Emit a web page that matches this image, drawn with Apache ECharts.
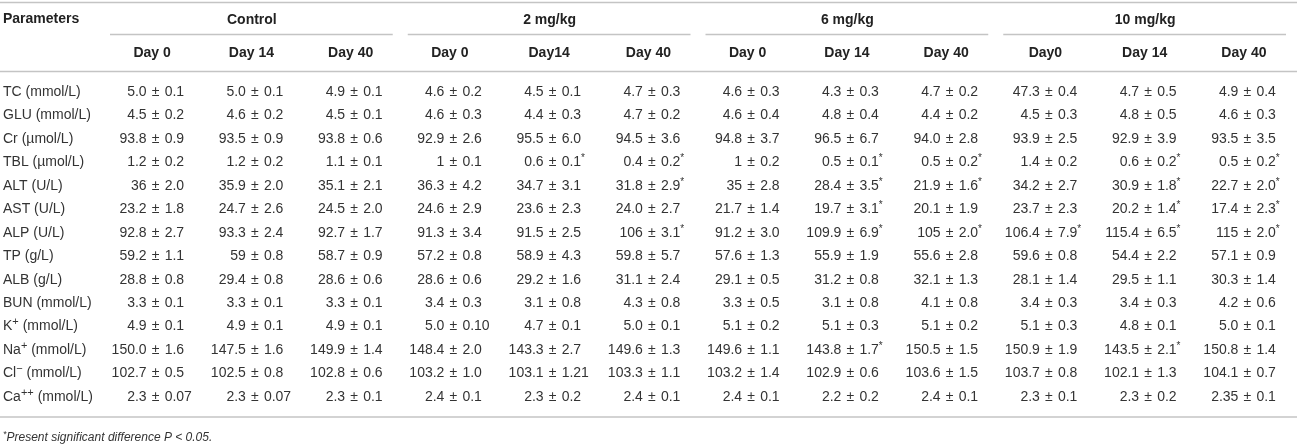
<!DOCTYPE html>
<html>
<head>
<meta charset="utf-8">
<title>Serum biochemistry table</title>
<script src="https://cdn.jsdelivr.net/npm/echarts@6/dist/echarts.min.js"></script>
<style>
    html, body { margin: 0; padding: 0; background: #fff; }
    #table { width: 1297px; height: 447px; }
</style>
</head>
<body>
<div id="table"></div>
<script>
// row labels, [x] = superscript
var parameters = ['TC (mmol/L)', 'GLU (mmol/L)', 'Cr (\u00b5mol/L)', 'TBL (\u00b5mol/L)', 'ALT (U/L)', 'AST (U/L)',
    'ALP (U/L)', 'TP (g/L)', 'ALB (g/L)', 'BUN (mmol/L)', 'K[+] (mmol/L)', 'Na[+] (mmol/L)',
    'Cl[\u2212] (mmol/L)', 'Ca[++] (mmol/L)'];
var groups = ['Control', '2 mg/kg', '6 mg/kg', '10 mg/kg'];
var days = ['Day 0', 'Day 14', 'Day 40', 'Day 0', 'Day14', 'Day 40', 'Day 0', 'Day 14', 'Day 40', 'Day0', 'Day 14', 'Day 40'];

// mean ± sd per group, one row per parameter (Day 0, Day 14, Day 40); * = significant
var control = [
    ['5.0 ± 0.1', '5.0 ± 0.1', '4.9 ± 0.1'],
    ['4.5 ± 0.2', '4.6 ± 0.2', '4.5 ± 0.1'],
    ['93.8 ± 0.9', '93.5 ± 0.9', '93.8 ± 0.6'],
    ['1.2 ± 0.2', '1.2 ± 0.2', '1.1 ± 0.1'],
    ['36 ± 2.0', '35.9 ± 2.0', '35.1 ± 2.1'],
    ['23.2 ± 1.8', '24.7 ± 2.6', '24.5 ± 2.0'],
    ['92.8 ± 2.7', '93.3 ± 2.4', '92.7 ± 1.7'],
    ['59.2 ± 1.1', '59 ± 0.8', '58.7 ± 0.9'],
    ['28.8 ± 0.8', '29.4 ± 0.8', '28.6 ± 0.6'],
    ['3.3 ± 0.1', '3.3 ± 0.1', '3.3 ± 0.1'],
    ['4.9 ± 0.1', '4.9 ± 0.1', '4.9 ± 0.1'],
    ['150.0 ± 1.6', '147.5 ± 1.6', '149.9 ± 1.4'],
    ['102.7 ± 0.5', '102.5 ± 0.8', '102.8 ± 0.6'],
    ['2.3 ± 0.07', '2.3 ± 0.07', '2.3 ± 0.1']
];
var dose2 = [
    ['4.6 ± 0.2', '4.5 ± 0.1', '4.7 ± 0.3'],
    ['4.6 ± 0.3', '4.4 ± 0.3', '4.7 ± 0.2'],
    ['92.9 ± 2.6', '95.5 ± 6.0', '94.5 ± 3.6'],
    ['1 ± 0.1', '0.6 ± 0.1*', '0.4 ± 0.2*'],
    ['36.3 ± 4.2', '34.7 ± 3.1', '31.8 ± 2.9*'],
    ['24.6 ± 2.9', '23.6 ± 2.3', '24.0 ± 2.7'],
    ['91.3 ± 3.4', '91.5 ± 2.5', '106 ± 3.1*'],
    ['57.2 ± 0.8', '58.9 ± 4.3', '59.8 ± 5.7'],
    ['28.6 ± 0.6', '29.2 ± 1.6', '31.1 ± 2.4'],
    ['3.4 ± 0.3', '3.1 ± 0.8', '4.3 ± 0.8'],
    ['5.0 ± 0.10', '4.7 ± 0.1', '5.0 ± 0.1'],
    ['148.4 ± 2.0', '143.3 ± 2.7', '149.6 ± 1.3'],
    ['103.2 ± 1.0', '103.1 ± 1.21', '103.3 ± 1.1'],
    ['2.4 ± 0.1', '2.3 ± 0.2', '2.4 ± 0.1']
];
var dose6 = [
    ['4.6 ± 0.3', '4.3 ± 0.3', '4.7 ± 0.2'],
    ['4.6 ± 0.4', '4.8 ± 0.4', '4.4 ± 0.2'],
    ['94.8 ± 3.7', '96.5 ± 6.7', '94.0 ± 2.8'],
    ['1 ± 0.2', '0.5 ± 0.1*', '0.5 ± 0.2*'],
    ['35 ± 2.8', '28.4 ± 3.5*', '21.9 ± 1.6*'],
    ['21.7 ± 1.4', '19.7 ± 3.1*', '20.1 ± 1.9'],
    ['91.2 ± 3.0', '109.9 ± 6.9*', '105 ± 2.0*'],
    ['57.6 ± 1.3', '55.9 ± 1.9', '55.6 ± 2.8'],
    ['29.1 ± 0.5', '31.2 ± 0.8', '32.1 ± 1.3'],
    ['3.3 ± 0.5', '3.1 ± 0.8', '4.1 ± 0.8'],
    ['5.1 ± 0.2', '5.1 ± 0.3', '5.1 ± 0.2'],
    ['149.6 ± 1.1', '143.8 ± 1.7*', '150.5 ± 1.5'],
    ['103.2 ± 1.4', '102.9 ± 0.6', '103.6 ± 1.5'],
    ['2.4 ± 0.1', '2.2 ± 0.2', '2.4 ± 0.1']
];
var dose10 = [
    ['47.3 ± 0.4', '4.7 ± 0.5', '4.9 ± 0.4'],
    ['4.5 ± 0.3', '4.8 ± 0.5', '4.6 ± 0.3'],
    ['93.9 ± 2.5', '92.9 ± 3.9', '93.5 ± 3.5'],
    ['1.4 ± 0.2', '0.6 ± 0.2*', '0.5 ± 0.2*'],
    ['34.2 ± 2.7', '30.9 ± 1.8*', '22.7 ± 2.0*'],
    ['23.7 ± 2.3', '20.2 ± 1.4*', '17.4 ± 2.3*'],
    ['106.4 ± 7.9*', '115.4 ± 6.5*', '115 ± 2.0*'],
    ['59.6 ± 0.8', '54.4 ± 2.2', '57.1 ± 0.9'],
    ['28.1 ± 1.4', '29.5 ± 1.1', '30.3 ± 1.4'],
    ['3.4 ± 0.3', '3.4 ± 0.3', '4.2 ± 0.6'],
    ['5.1 ± 0.3', '4.8 ± 0.1', '5.0 ± 0.1'],
    ['150.9 ± 1.9', '143.5 ± 2.1*', '150.8 ± 1.4'],
    ['103.7 ± 0.8', '102.1 ± 1.3', '104.1 ± 0.7'],
    ['2.3 ± 0.1', '2.3 ± 0.2', '2.35 ± 0.1']
];
var footnote = 'Present significant difference P < 0.05.';

var FONT = "'Liberation Sans', Arial, Helvetica, sans-serif";
var TEXT = '#333';
var HEAD = '#222';
var RULE = '#c4c4c4';

var table = (function () {
    var blocks = [control, dose2, dose6, dose10];
    var cells = [];
    blocks.forEach(function (block, g) {
        block.forEach(function (row, r) {
            row.forEach(function (txt, d) {
                var parts = txt.split(' ± ');
                var star = /\*$/.test(parts[1]);
                cells.push({
                    value: [g * 3 + d, r],
                    mean: parts[0],
                    sd: parts[1].replace('*', ''),
                    star: star
                });
            });
        });
    });
    return { cells: cells };
})();

function supText(s) {
    return s.replace(/\[(.+?)\]/g, '{sup|$1}');
}

function renderCell(params, api) {
    var cell = table.cells[params.dataIndex];
    var p = api.coord([api.value(0), api.value(1)]);
    var gap = 9;
    var rich = {
        v: { fontFamily: FONT, fontSize: 14, lineHeight: 18, fill: TEXT },
        s: { fontFamily: FONT, fontSize: 10, lineHeight: 12, verticalAlign: 'top', fill: TEXT }
    };
    return {
        type: 'group',
        children: [
            {
                type: 'text',
                style: { x: p[0] - gap, y: p[1], text: cell.mean, align: 'right', verticalAlign: 'middle',
                    font: '14px ' + FONT, fill: TEXT }
            },
            {
                type: 'text',
                style: { x: p[0], y: p[1], text: '\u00b1', align: 'center', verticalAlign: 'middle',
                    font: '14px ' + FONT, fill: TEXT }
            },
            {
                type: 'text',
                style: { x: p[0] + gap, y: p[1], text: '{v|' + cell.sd + '}' + (cell.star ? '{s|*}' : ''),
                    rich: rich, align: 'left', verticalAlign: 'middle' }
            }
        ]
    };
}

function renderUnderline(params, api) {
    var p = api.coord([api.value(0), 0]);
    var band = api.size([1, 0])[0];
    return {
        type: 'line',
        shape: { x1: p[0] - band / 2 + 4, y1: p[1] - 0.5, x2: p[0] + band / 2 - 11, y2: p[1] - 0.5 },
        style: { stroke: RULE, lineWidth: 1.5 }
    };
}

var chart = echarts.init(document.getElementById('table'));
var option = {
    backgroundColor: '#fff',
    animation: false,
    title: [
        {
            text: 'Parameters', left: 3, top: 12, padding: 0,
            textStyle: { fontFamily: FONT, fontSize: 14, fontWeight: 'bold', color: HEAD }
        },
        {
            text: '{s|*}{i|' + footnote + '}', left: 3, top: 430, padding: 0,
            textStyle: {
                fontFamily: FONT, fontSize: 12, fontStyle: 'italic', fontWeight: 'normal', color: TEXT,
                rich: {
                    s: { fontFamily: FONT, fontSize: 9, lineHeight: 10, verticalAlign: 'top',
                        fontWeight: 'normal', color: TEXT },
                    i: { fontFamily: FONT, fontSize: 12, lineHeight: 16, fontStyle: 'italic',
                        fontWeight: 'normal', color: TEXT }
                }
            }
        }
    ],
    graphic: [
        { type: 'line', shape: { x1: 0, y1: 2.5, x2: 1297, y2: 2.5 }, style: { stroke: RULE, lineWidth: 1.5 } },
        { type: 'line', shape: { x1: 0, y1: 71.5, x2: 1297, y2: 71.5 }, style: { stroke: RULE, lineWidth: 1.5 } },
        { type: 'line', shape: { x1: 0, y1: 417, x2: 1297, y2: 417 }, style: { stroke: RULE, lineWidth: 1.5 } }
    ],
    grid: [
        { left: 106, right: -10, top: 80.3, bottom: 38.3 },
        { left: 106, right: -10, top: 20, height: 15 }
    ],
    xAxis: [
        {
            type: 'category', gridIndex: 0, position: 'top',
            data: days.map(function (d, i) { return i; }),
            axisLine: { show: false }, axisTick: { show: false }, splitLine: { show: false },
            axisLabel: {
                interval: 0, margin: 27, verticalAlign: 'middle', padding: [0, 7, 0, 0],
                fontFamily: FONT, fontSize: 14, fontWeight: 'bold', color: HEAD,
                formatter: function (v, i) { return days[i]; }
            }
        },
        {
            type: 'category', gridIndex: 1, position: 'top',
            data: groups.map(function (d, i) { return i; }),
            axisLine: { show: false }, axisTick: { show: false }, splitLine: { show: false },
            axisLabel: {
                interval: 0, margin: 0, verticalAlign: 'middle', padding: [0, 6, 0, 0],
                fontFamily: FONT, fontSize: 14, fontWeight: 'bold', color: HEAD,
                formatter: function (v, i) { return groups[i]; }
            }
        }
    ],
    yAxis: [
        {
            type: 'category', gridIndex: 0, inverse: true,
            data: parameters,
            axisLine: { show: false }, axisTick: { show: false }, splitLine: { show: false },
            axisLabel: {
                interval: 0, margin: 103, align: 'left',
                fontFamily: FONT, fontSize: 14, color: TEXT, lineHeight: 20,
                formatter: supText,
                rich: {
                    sup: { fontFamily: FONT, fontSize: 11, lineHeight: 12, verticalAlign: 'top', color: TEXT }
                }
            }
        },
        {
            type: 'value', gridIndex: 1, min: 0, max: 1, show: false
        }
    ],
    series: [
        {
            name: 'values',
            type: 'custom',
            xAxisIndex: 0, yAxisIndex: 0,
            renderItem: renderCell,
            encode: { x: 0, y: 1 },
            data: table.cells.map(function (c) { return c.value; })
        },
        {
            name: 'groupRules',
            type: 'custom',
            xAxisIndex: 1, yAxisIndex: 1,
            renderItem: renderUnderline,
            encode: { x: 0, y: 1 },
            data: groups.map(function (g, i) { return [i, 0]; })
        }
    ]
};
chart.setOption(option);
</script>
</body>
</html>
